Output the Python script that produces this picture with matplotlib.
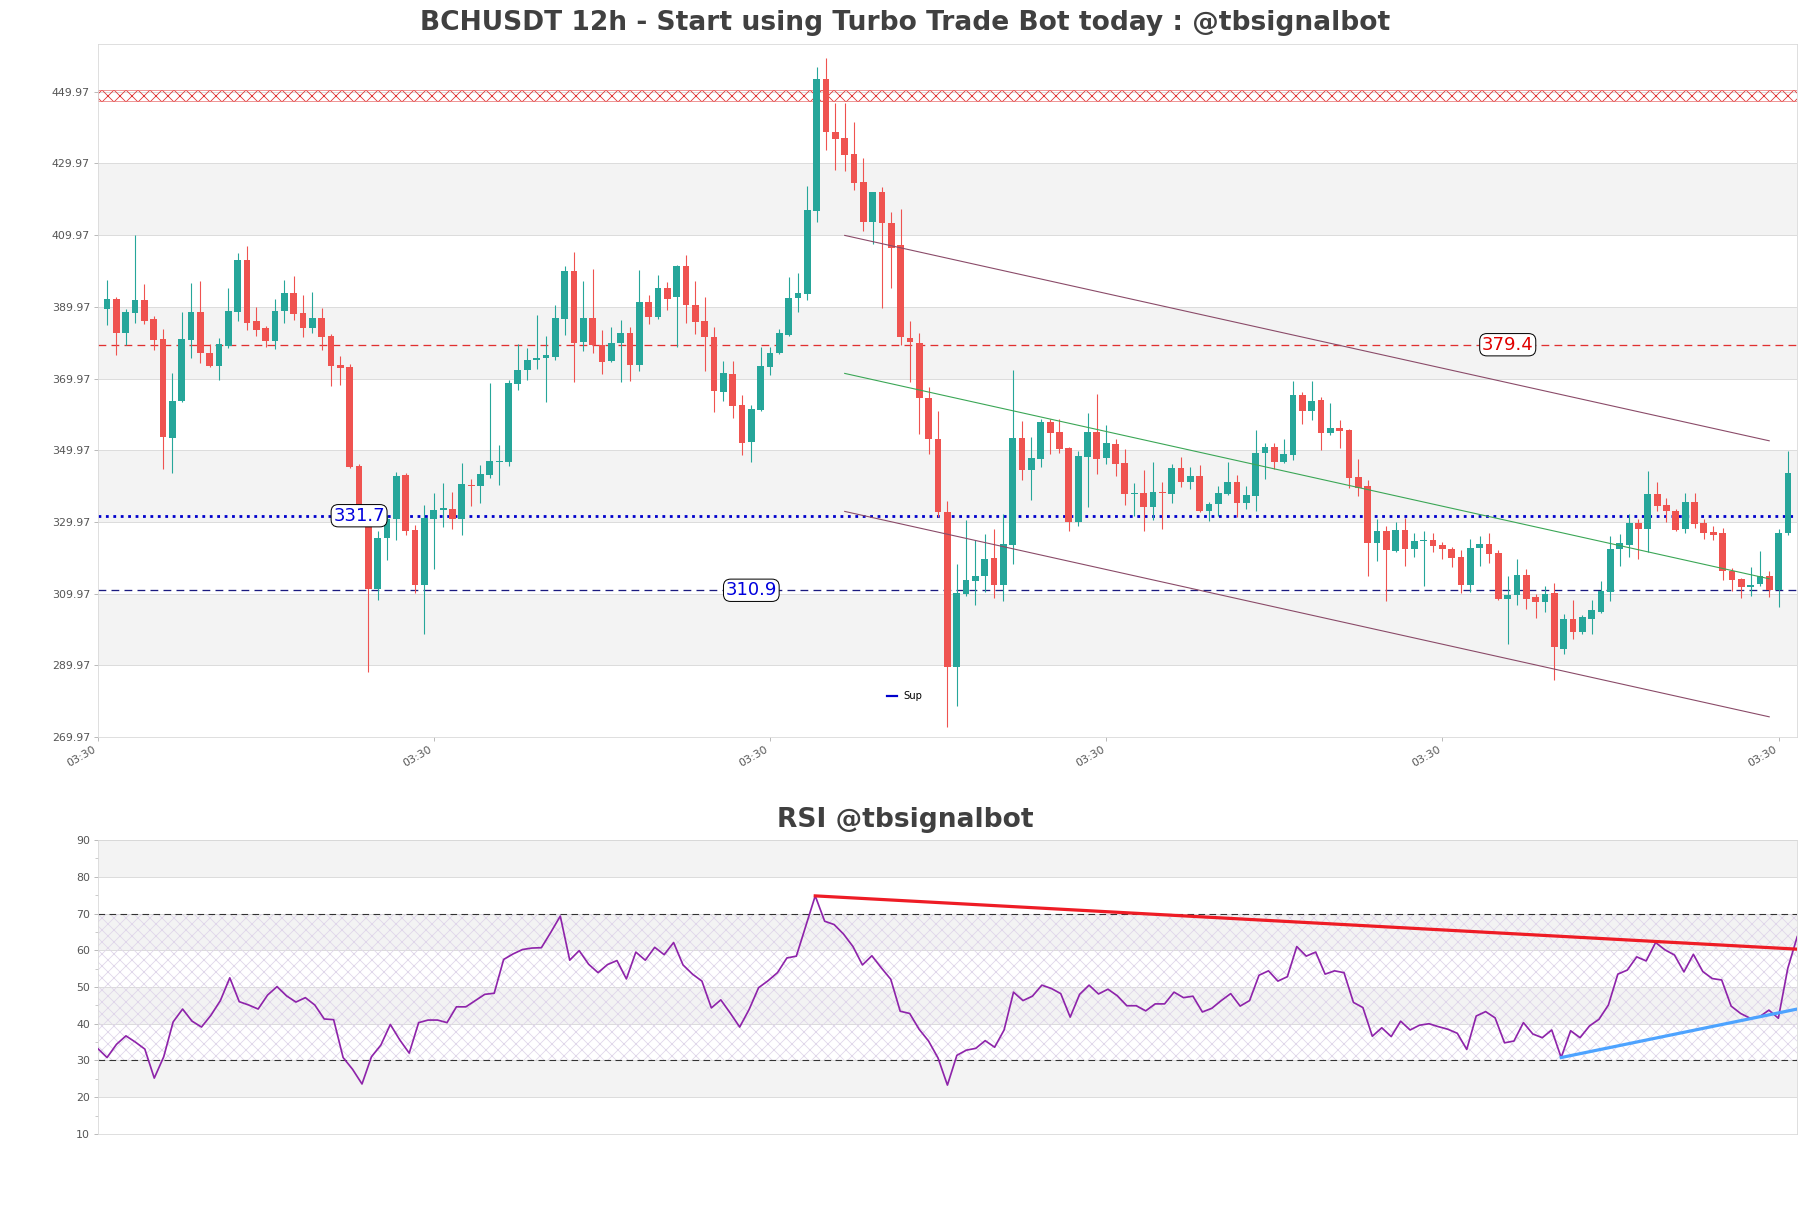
import matplotlib
matplotlib.use("Agg")
import matplotlib.pyplot as plt
from matplotlib.lines import Line2D
import numpy as np

# ---- data (index = candle number, 12h candles) ----
opens = [389.3, 392.1, 382.7, 388.3, 391.8, 386.5, 380.9, 353.4, 363.6, 380.7,
         388.5, 377.0, 373.5, 379.1, 388.6, 403.0, 386.0, 384.0, 380.5, 388.9,
         393.8, 388.2, 384.1, 386.8, 381.8, 373.7, 373.1, 345.5, 331.0, 311.3,
         325.4, 330.9, 343.0, 327.7, 312.4, 330.9, 333.2, 333.6, 330.9, 340.4,
         340.0, 343.1, 346.7, 346.7, 368.5, 372.3, 375.2, 375.8, 376.0, 386.7,
         400.0, 380.2, 386.9, 379.2, 374.8, 379.9, 382.7, 373.8, 391.3, 387.2,
         395.3, 392.6, 401.3, 390.5, 385.9, 381.5, 366.2, 371.2, 362.5, 352.3,
         361.2, 373.1, 377.1, 382.2, 392.4, 393.6, 416.6, 453.4, 438.8, 437.2,
         432.5, 424.7, 413.5, 421.9, 413.3, 407.1, 381.4, 380.0, 364.4, 353.2,
         332.6, 289.6, 310.0, 313.5, 314.8, 319.8, 312.3, 323.4, 353.3, 344.4,
         347.4, 357.9, 355.1, 350.7, 330.0, 348.1, 355.1, 347.8, 351.6, 346.3,
         337.8, 338.1, 334.1, 338.4, 337.8, 344.9, 341.1, 342.8, 333.0, 334.9,
         337.8, 341.2, 335.3, 337.2, 349.3, 351.0, 346.7, 348.6, 365.3, 361.0,
         363.9, 354.7, 356.3, 355.5, 342.4, 339.9, 324.0, 327.3, 321.9, 327.8,
         322.3, 324.7, 325.0, 323.4, 322.3, 320.1, 312.5, 322.6, 323.9, 321.2,
         308.6, 309.5, 315.3, 309.0, 307.6, 310.2, 294.6, 303.0, 299.2, 303.0,
         304.9, 310.4, 322.3, 323.4, 329.6, 327.9, 337.7, 334.6, 333.0, 327.9,
         335.6, 329.6, 327.1, 326.8, 316.4, 314.1, 311.8, 312.7, 314.8, 311.1,
         327.0]
highs = [397.4, 392.7, 389.5, 410.0, 396.3, 387.4, 383.9, 371.6, 388.4, 396.5,
         397.1, 379.7, 381.3, 395.1, 405.0, 406.9, 390.0, 384.6, 392.1, 397.4,
         398.5, 393.2, 394.0, 389.6, 382.5, 376.3, 374.1, 346.2, 331.5, 327.3,
         331.8, 343.8, 343.5, 329.1, 334.7, 337.9, 340.7, 338.2, 346.3, 341.9,
         345.8, 368.7, 351.4, 369.6, 379.7, 378.5, 387.6, 381.8, 390.4, 401.3,
         405.3, 397.2, 400.5, 383.6, 384.4, 386.2, 384.4, 400.2, 393.4, 398.8,
         397.0, 401.6, 404.4, 397.3, 392.8, 384.4, 374.9, 374.9, 365.4, 362.5,
         378.9, 378.9, 383.9, 398.2, 399.5, 423.7, 456.9, 459.4, 446.8, 446.8,
         441.5, 431.6, 421.9, 423.5, 416.3, 417.3, 386.1, 382.7, 367.5, 361.0,
         335.7, 318.2, 330.5, 324.9, 326.7, 327.9, 332.1, 372.4, 358.1, 353.7,
         358.6, 358.8, 358.6, 351.0, 349.8, 360.3, 365.6, 357.0, 353.0, 350.2,
         340.7, 344.4, 346.8, 341.2, 346.0, 348.1, 345.3, 345.8, 335.5, 340.0,
         346.8, 343.1, 340.0, 355.5, 352.1, 351.9, 353.0, 369.3, 366.2, 369.3,
         364.7, 363.1, 358.4, 356.0, 347.4, 341.6, 330.7, 328.8, 330.0, 331.2,
         326.9, 327.4, 326.8, 324.5, 322.9, 322.2, 325.1, 326.1, 326.8, 322.0,
         314.9, 319.5, 316.9, 309.9, 312.0, 312.8, 304.4, 308.3, 304.0, 308.3,
         313.5, 326.0, 326.5, 332.1, 330.9, 344.2, 341.1, 336.7, 333.5, 338.1,
         338.1, 330.9, 328.8, 328.4, 317.2, 314.4, 317.5, 321.8, 316.4, 327.9,
         349.8]
lows = [384.8, 376.4, 379.2, 385.5, 385.1, 377.9, 344.8, 343.6, 363.4, 375.8,
        374.3, 373.2, 369.5, 378.5, 386.0, 383.4, 381.8, 378.8, 378.2, 385.5,
        386.2, 381.6, 382.7, 378.0, 367.8, 368.3, 345.0, 330.5, 288.0, 308.2,
        319.3, 324.9, 326.3, 310.2, 298.7, 316.8, 328.6, 328.0, 326.3, 334.4,
        335.3, 342.1, 340.2, 345.7, 366.9, 369.5, 372.5, 363.4, 375.2, 382.0,
        369.0, 377.7, 377.1, 371.3, 374.6, 369.0, 369.3, 372.1, 385.3, 386.7,
        389.0, 378.7, 385.5, 382.4, 372.0, 360.6, 363.7, 359.0, 348.5, 346.6,
        361.0, 371.0, 376.8, 381.8, 388.6, 391.8, 413.5, 433.7, 428.2, 427.9,
        422.5, 411.1, 407.4, 389.6, 395.1, 379.3, 369.0, 354.4, 348.8, 331.4,
        272.8, 278.5, 309.3, 306.9, 310.3, 308.8, 307.9, 318.1, 341.6, 336.1,
        345.3, 349.0, 349.1, 327.4, 328.8, 334.1, 343.3, 346.1, 342.8, 334.6,
        331.6, 327.4, 330.5, 327.9, 335.3, 339.8, 339.1, 332.7, 330.2, 331.6,
        337.5, 331.4, 333.5, 333.0, 341.9, 344.6, 346.5, 347.3, 357.2, 358.5,
        350.0, 354.1, 350.5, 339.5, 337.2, 314.9, 319.1, 307.8, 321.6, 317.6,
        320.3, 312.2, 321.6, 319.6, 317.3, 310.1, 310.3, 317.8, 318.4, 308.3,
        295.8, 306.7, 305.6, 303.2, 304.9, 285.8, 293.1, 297.2, 298.6, 298.8,
        304.6, 307.9, 317.8, 320.3, 319.5, 321.6, 333.0, 330.0, 327.4, 326.8,
        328.4, 325.1, 324.9, 313.7, 310.6, 308.8, 309.3, 312.1, 309.1, 306.3,
        326.3]
closes = [392.1, 382.7, 388.5, 391.8, 386.0, 380.7, 353.6, 363.6, 380.9, 388.5,
          377.1, 373.5, 379.5, 388.8, 403.0, 385.5, 383.6, 380.5, 388.8, 393.8,
          388.0, 384.1, 386.8, 381.6, 373.5, 373.0, 345.3, 331.0, 311.3, 325.4,
          330.9, 342.7, 327.4, 312.4, 331.1, 333.3, 333.8, 330.9, 340.5, 340.0,
          343.3, 346.9, 347.1, 368.7, 372.4, 375.2, 375.6, 376.5, 386.9, 400.0,
          379.9, 386.9, 379.2, 374.6, 380.0, 382.7, 373.8, 391.3, 387.2, 395.3,
          392.1, 401.3, 390.5, 385.8, 381.6, 366.6, 371.4, 362.2, 351.9, 361.5,
          373.4, 377.2, 382.7, 392.4, 393.8, 416.9, 453.4, 438.7, 436.8, 432.2,
          424.5, 413.5, 421.9, 413.3, 406.5, 381.5, 380.2, 364.4, 353.2, 332.6,
          289.6, 310.1, 313.9, 315.0, 319.5, 312.3, 323.7, 353.3, 344.4, 347.7,
          357.9, 354.7, 350.2, 330.0, 348.4, 355.1, 347.4, 351.9, 346.0, 337.8,
          338.1, 334.1, 338.4, 338.1, 344.9, 341.1, 342.8, 333.0, 334.9, 338.1,
          341.2, 335.3, 337.4, 349.3, 351.0, 346.7, 349.0, 365.3, 361.0, 363.7,
          354.7, 356.3, 355.4, 342.2, 339.5, 324.0, 327.3, 322.2, 327.8, 322.3,
          324.7, 325.0, 323.2, 322.3, 319.9, 312.5, 322.6, 323.9, 321.0, 308.6,
          309.7, 315.3, 308.6, 307.6, 310.0, 295.0, 303.0, 299.2, 303.4, 305.4,
          310.7, 322.3, 324.0, 329.6, 327.9, 337.7, 334.4, 333.0, 327.6, 335.6,
          329.3, 326.8, 326.3, 316.2, 313.9, 311.8, 312.5, 314.8, 311.1, 327.0,
          343.6]

rsi = [33.3, 30.8, 34.4, 36.7, 35.0, 33.1, 25.2, 31.0, 40.5, 44.0,
       40.7, 39.1, 42.3, 46.3, 52.5, 46.0, 45.1, 44.0, 47.8, 50.1,
       47.6, 45.9, 47.1, 45.1, 41.3, 41.1, 30.8, 27.6, 23.6, 31.0,
       34.2, 39.8, 35.6, 32.0, 40.3, 41.0, 41.0, 40.3, 44.6, 44.6,
       46.3, 48.0, 48.3, 57.5, 59.0, 60.2, 60.6, 60.7, 64.9, 69.3,
       57.3, 59.9, 56.2, 53.9, 56.1, 57.2, 52.2, 59.5, 57.3, 60.8,
       58.8, 62.1, 56.0, 53.5, 51.6, 44.3, 46.5, 42.9, 39.1, 43.9,
       49.8, 51.7, 53.9, 57.9, 58.4, 66.6, 74.8, 67.9, 67.0, 64.4,
       61.0, 56.0, 58.5, 55.2, 52.1, 43.4, 42.8, 38.5, 35.3, 30.7,
       23.3, 31.4, 32.8, 33.3, 35.4, 33.6, 38.3, 48.6, 46.3, 47.5,
       50.5, 49.6, 48.2, 41.8, 48.0, 50.5, 48.1, 49.4, 47.6, 44.9,
       44.9, 43.5, 45.4, 45.4, 48.6, 47.1, 47.5, 43.2, 44.2, 46.3,
       48.2, 44.8, 46.3, 53.2, 54.4, 51.6, 52.8, 61.0, 58.4, 59.5,
       53.5, 54.4, 53.9, 45.8, 44.4, 36.6, 38.9, 36.5, 40.7, 38.3,
       39.6, 40.0, 39.2, 38.5, 37.4, 33.0, 42.1, 43.3, 41.6, 34.8,
       35.3, 40.3, 37.2, 36.2, 38.3, 30.8, 38.1, 36.2, 39.4, 41.2,
       45.1, 53.5, 54.6, 58.2, 57.1, 62.1, 60.1, 58.7, 54.1, 58.9,
       54.2, 52.3, 51.9, 44.8, 42.8, 41.5, 41.9, 43.7, 41.5, 55.1,
       63.7]

# levels / zones
resist_zone = (447.5, 450.5)
resist_level = 379.4
sup_level = 331.7
sup_level2 = 310.9
label_idx = {379.4: 150, 331.7: 27, 310.9: 69}

# regression channel (start/end candle, mid values, half width)
chan_idx = [79, 178]
chan_mid = [371.4, 314.1]
chan_half = 38.5

# RSI trend lines
rsi_res_idx = [76, 180]
rsi_res_val = [74.8, 60.3]
rsi_sup_idx = [155, 180]
rsi_sup_val = [30.8, 44.0]

tick_idx = [-1, 35, 71, 107, 143, 179]
tick_lbl = ["03:30"] * len(tick_idx)

UP = "#26a69a"
DOWN = "#ef5350"
BAND = "#f3f3f3"
GRID = "#dcdcdc"

plt.rcParams["hatch.linewidth"] = 0.8

DPI = 72
fig = plt.figure(figsize=(1811 / DPI, 1208 / DPI), dpi=DPI)
ax = fig.add_axes([0.0539, 0.3899, 0.9385, 0.5737])
ax2 = fig.add_axes([0.0539, 0.0613, 0.9385, 0.2433])

# ---------------- main price chart ----------------
ymin, ymax = 269.97, 463.3
yt = np.arange(269.97, 460, 20)
for k in range(len(yt) - 1):
    if k % 2 == 1:
        ax.axhspan(yt[k], yt[k + 1], color=BAND, zorder=0, lw=0)
for v in yt:
    ax.axhline(v, color=GRID, lw=1, zorder=0.5)

x = np.arange(len(closes))
o = np.array(opens); c = np.array(closes)
h = np.array(highs); l = np.array(lows)
cols = np.where(c >= o, UP, DOWN)
ax.vlines(x, l, h, colors=cols, lw=1.1, zorder=2)
body = np.maximum(np.abs(c - o), 0.35)
ax.bar(x, body, bottom=np.minimum(o, c), width=0.72, color=cols, zorder=3, lw=0)

# resistance zone
ax.axhspan(resist_zone[0], resist_zone[1], facecolor="none", edgecolor="#e03030",
           hatch="xx", lw=0.5, zorder=1.5)

ax.axhline(resist_level, color="#e03030", ls=(0, (6, 4)), lw=1.3, zorder=1.6)
ax.axhline(sup_level, color="#0000cc", ls=":", lw=2.8, zorder=1.6)
ax.axhline(sup_level2, color="#1a1a80", ls=(0, (6, 4)), lw=1.3, zorder=1.6)

for lvl, col in [(resist_level, "#e00000"), (sup_level, "#0000dd"), (sup_level2, "#0000dd")]:
    ax.text(label_idx[lvl], lvl, f"{lvl:.1f}", color=col, fontsize=18,
            ha="center", va="center", zorder=6,
            bbox=dict(boxstyle="round,pad=0.12,rounding_size=0.4", fc="white", ec="black", lw=1))

cx = np.array(chan_idx)
cm = np.array(chan_mid)
ax.plot(cx, cm + chan_half, color="#8a4a68", lw=1.1, zorder=4)
ax.plot(cx, cm, color="#3aa655", lw=1.1, zorder=4)
ax.plot(cx, cm - chan_half, color="#8a4a68", lw=1.1, zorder=4)

ax.set_xlim(-1, 181)
ax.set_ylim(ymin, ymax)
ax.set_yticks(yt)
ax.set_yticklabels([f"{v:.2f}" for v in yt])
ax.set_xticks(tick_idx)
ax.set_xticklabels(tick_lbl, rotation=30, ha="right")
ax.tick_params(labelsize=11, colors="#555555", length=4, color="#aaaaaa")
for s in ax.spines.values():
    s.set_color("#d8d8d8")

ax.legend(handles=[Line2D([], [], color="#0000cc", lw=2.2)], labels=["Sup"],
          frameon=False, fontsize=10, loc="center", bbox_to_anchor=(0.475, 0.059),
          handlelength=1.0, handletextpad=0.6)

fig.text(0.5, 1 - 23 / 1208, "BCHUSDT 12h - Start using Turbo Trade Bot today : @tbsignalbot",
         ha="center", va="center", fontsize=26.5, fontweight="bold", color="#404040")

# ---------------- RSI ----------------
rt = np.arange(10, 91, 10)
for k in range(len(rt) - 1):
    if k % 2 == 1:
        ax2.axhspan(rt[k], rt[k + 1], color=BAND, zorder=0, lw=0)
for v in rt:
    ax2.axhline(v, color=GRID, lw=1, zorder=0.5)

ax2.axhspan(30, 70, facecolor="none", edgecolor="#e0d6ea", hatch="xx", lw=0, zorder=0.6)
ax2.axhline(70, color="#333333", ls=(0, (6, 4)), lw=1.1, zorder=1)
ax2.axhline(30, color="#333333", ls=(0, (6, 4)), lw=1.1, zorder=1)

ax2.plot(np.arange(len(rsi)), rsi, color="#8e24aa", lw=1.7, zorder=3)
ax2.plot(rsi_res_idx, rsi_res_val, color="#ee1c25", lw=3.2, zorder=4)
ax2.plot(rsi_sup_idx, rsi_sup_val, color="#4da3ff", lw=3.2, zorder=4)

ax2.set_xlim(0, len(rsi) - 1)
ax2.set_ylim(10, 90)
ax2.set_yticks(rt)
ax2.set_yticks(np.arange(15, 90, 10), minor=True)
ax2.set_xticks([])
ax2.tick_params(labelsize=11, colors="#555555", length=4, color="#aaaaaa")
ax2.tick_params(which="minor", length=3, color="#aaaaaa")
for s in ax2.spines.values():
    s.set_color("#d8d8d8")

fig.text(0.5, 1 - 820 / 1208, "RSI @tbsignalbot", ha="center", va="center",
         fontsize=26.5, fontweight="bold", color="#404040")

fig.savefig("out.png", dpi=DPI)
